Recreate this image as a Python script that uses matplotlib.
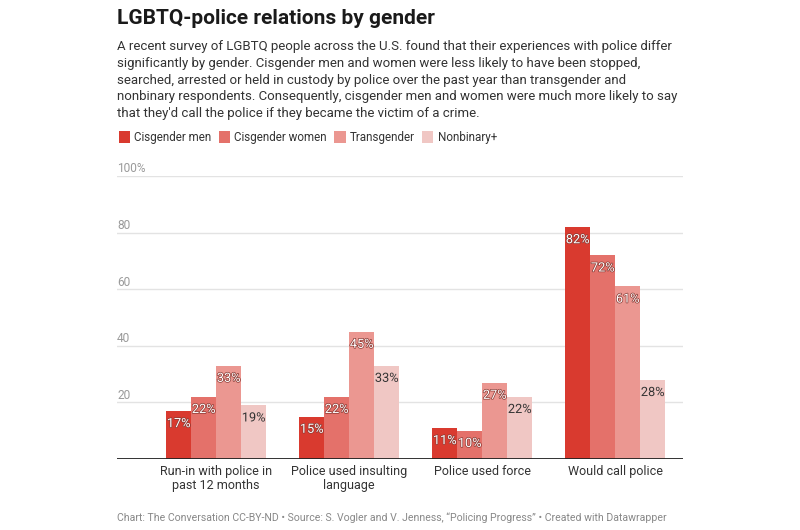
import matplotlib
matplotlib.use("Agg")
import matplotlib.pyplot as plt
import matplotlib.patheffects as pe
from matplotlib.patches import Patch
from matplotlib.transforms import blended_transform_factory
import numpy as np

plt.rcParams['font.family'] = ['Roboto', 'DejaVu Sans']

categories = ["Run-in with police in\npast 12 months",
              "Police used insulting\nlanguage",
              "Police used force",
              "Would call police"]
series_names = ["Cisgender men", "Cisgender women", "Transgender", "Nonbinary+"]
cis_men = [17, 15, 11, 82]
cis_women = [22, 22, 10, 72]
transgender = [33, 45, 27, 61]
nonbinary = [19, 33, 22, 28]
series_values = [cis_men, cis_women, transgender, nonbinary]
colors = ["#d93a2f", "#e4716a", "#eb9791", "#f0c7c4"]
yticks = [20, 40, 60, 80, 100]
ytick_labels = ["20", "40", "60", "80", "100%"]

title = "LGBTQ-police relations by gender"
subtitle = ("A recent survey of LGBTQ people across the U.S. found that their experiences with police differ\n"
            "significantly by gender. Cisgender men and women were less likely to have been stopped,\n"
            "searched, arrested or held in custody by police over the past year than transgender and\n"
            "nonbinary respondents. Consequently, cisgender men and women were much more likely to say\n"
            "that they'd call the police if they became the victim of a crime.")
footer = ("Chart: The Conversation CC-BY-ND \u2022 Source: S. Vogler and V. Jenness, "
          "\u201cPolicing Progress\u201d \u2022 Created with Datawrapper")

W, H = 800, 530
fig = plt.figure(figsize=(W / 100, H / 100), dpi=100)
fig.patch.set_facecolor("white")

def fx(px):
    return px / W

def fy(py):
    return 1 - py / H

ax_left, ax_right, ax_top, ax_bottom = 117, 683, 176, 459
ax = fig.add_axes([fx(ax_left), fy(ax_bottom), (ax_right - ax_left) / W, (ax_bottom - ax_top) / H])

x = np.arange(len(categories))
bw = 25 / 133
for i, (vals, col) in enumerate(zip(series_values, colors)):
    xpos = x + (i - 1.5) * bw
    ax.bar(xpos, vals, width=bw, color=col, edgecolor="none", zorder=2)
    for xp, v in zip(xpos, vals):
        if i < 3:
            tc = "white"
            eff = [pe.withStroke(linewidth=1.0, foreground="#8a3a34")]
        else:
            tc = "#333333"
            eff = [pe.withStroke(linewidth=1.5, foreground=col)]
        ax.annotate(f"{v}%", (xp, v), xytext=(0, -4.5), textcoords="offset points",
                    ha="center", va="top", fontsize=9.2, color=tc,
                    path_effects=eff, zorder=4)

ax.set_xlim(-0.745, 3.51)
ax.set_ylim(0, 100)
for yt in yticks:
    ax.axhline(yt, color="#e3e3e3", lw=1, zorder=1)
ax.axhline(0, color="#222222", lw=1.3, zorder=3)

trans = blended_transform_factory(ax.transAxes, ax.transData)
for yt, lab in zip(yticks, ytick_labels):
    ax.text(0, yt + 1.3, lab, transform=trans, ha="left", va="baseline",
            fontsize=8.6, color="#9a9a9a")

ax.set_yticks([])
ax.set_xticks(x)
ax.set_xticklabels(categories, fontsize=9, color="#333333", linespacing=1.15)
ax.tick_params(axis="x", length=0, pad=4)
for s in ax.spines.values():
    s.set_visible(False)

fig.text(fx(117), fy(24), title, fontsize=15, fontweight="bold", color="#1a1a1a",
         ha="left", va="baseline")
fig.text(fx(117), fy(40), subtitle, fontsize=9.5, color="#333333", ha="left", va="top",
         linespacing=1.38)

handles = [Patch(facecolor=c, edgecolor="none") for c in colors]
fig.legend(handles, series_names, loc="upper left", bbox_to_anchor=(fx(114), fy(126)),
           ncol=4, frameon=False, fontsize=8.4, handlelength=1.0, handleheight=1.3,
           handletextpad=0.35, columnspacing=0.6, labelcolor="#333333", borderaxespad=0)

fig.text(fx(117), fy(521), footer, fontsize=7.6, color="#888888", ha="left", va="baseline")

fig.savefig("out.png", dpi=100, facecolor="white")
